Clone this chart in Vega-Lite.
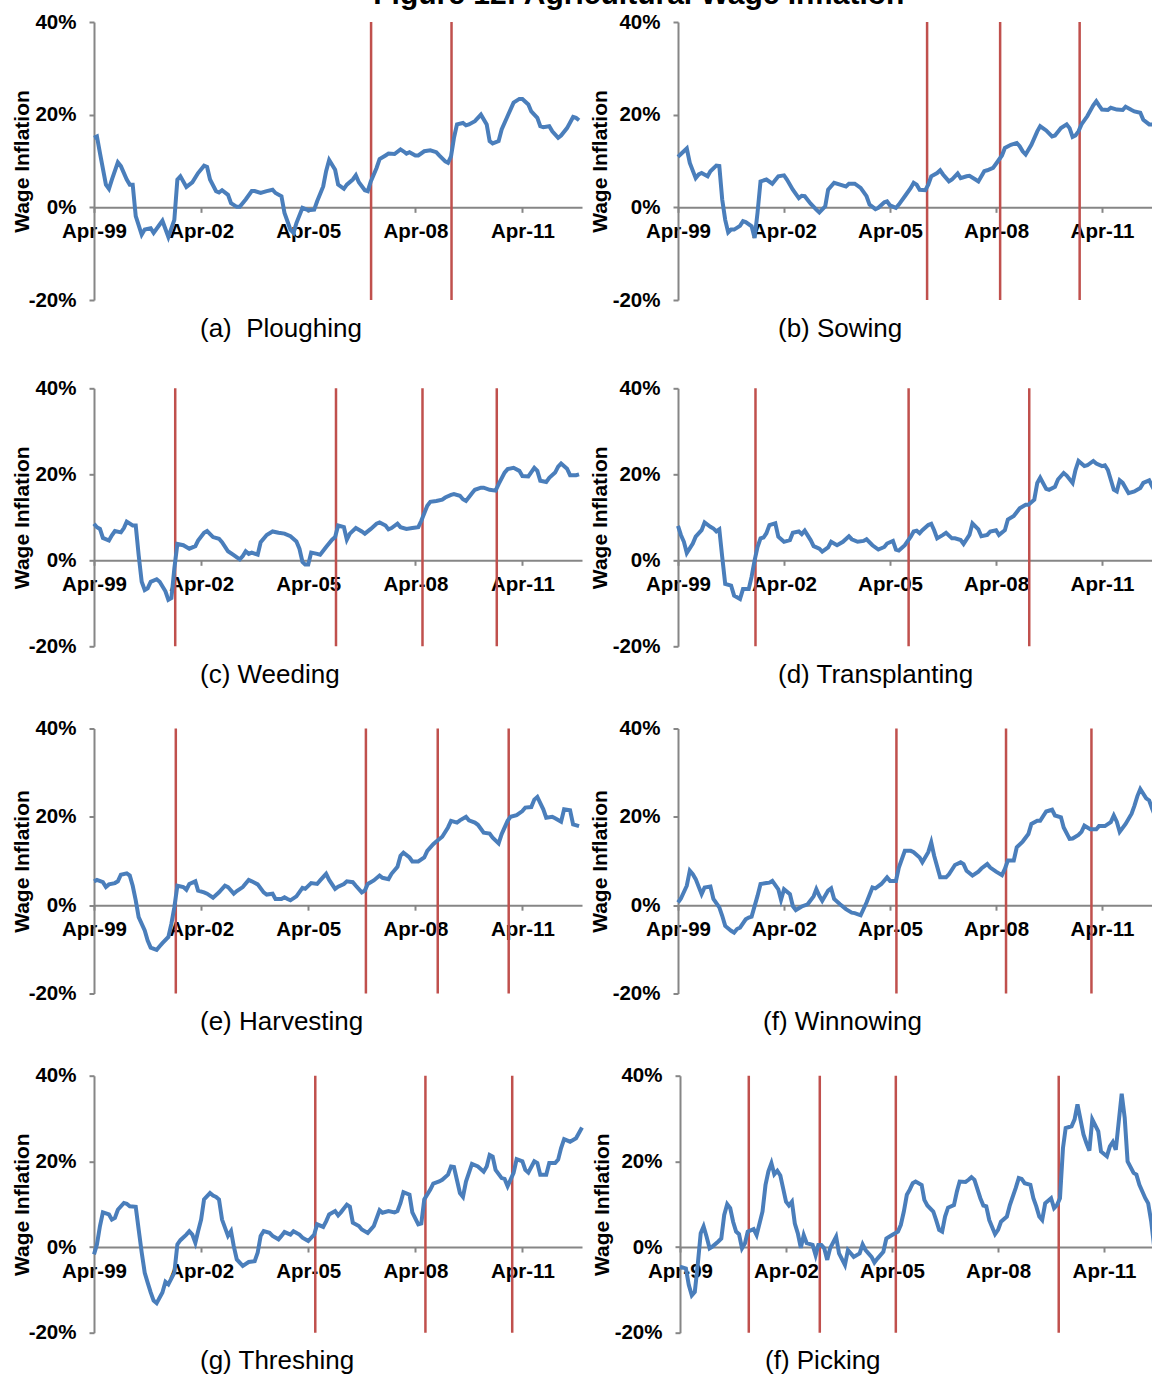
{
"$schema": "https://vega.github.io/schema/vega-lite/v6.json",
"background": "white",
"padding": {"left": 11, "top": -20, "right": -6, "bottom": 10},
"title": {"text": "Figure 12: Agricultural Wage Inflation", "font": "Liberation Sans", "fontSize": 30, "fontWeight": "bold", "color": "#000000", "anchor": "middle", "dx": 50, "offset": -22, "baseline": "alphabetic"},
"config": {
  "view": {"stroke": null},
  "font": "Liberation Sans",
  "title": {"font": "Liberation Sans", "fontSize": 26, "fontWeight": "normal", "color": "#000000"},
  "axis": {"grid": false, "domainColor": "#868686", "domainWidth": 2, "tickColor": "#868686", "tickWidth": 2, "tickSize": 5, "labelFont": "Liberation Sans", "labelFontSize": 20.5, "labelFontWeight": "bold", "labelColor": "#000000", "labelOverlap": false, "titleFont": "Liberation Sans", "titleFontSize": 21, "titleFontWeight": "bold", "titleColor": "#000000"},
  "axisX": {"labelFlush": false, "labelPadding": 9},
  "axisY": {"labelPadding": 13, "titleBaseline": "alphabetic"}
},
"datasets": {
"a": [{"d":"1999-04","v":15},{"d":"1999-05","v":15.3},{"d":"1999-06","v":11.7},{"d":"1999-08","v":4.9},{"d":"1999-09","v":4.0},{"d":"1999-10","v":6},{"d":"1999-12","v":9.7},{"d":"2000-01","v":8.9},{"d":"2000-03","v":6},{"d":"2000-04","v":4.9},{"d":"2000-05","v":4.9},{"d":"2000-06","v":-1.9},{"d":"2000-08","v":-5.9},{"d":"2000-09","v":-4.8},{"d":"2000-11","v":-4.5},{"d":"2000-12","v":-5.5},{"d":"2001-02","v":-3.7},{"d":"2001-03","v":-2.9},{"d":"2001-05","v":-6.4},{"d":"2001-07","v":-2.7},{"d":"2001-08","v":6},{"d":"2001-09","v":6.7},{"d":"2001-11","v":4.4},{"d":"2002-01","v":5.4},{"d":"2002-03","v":7.4},{"d":"2002-05","v":9},{"d":"2002-06","v":8.7},{"d":"2002-07","v":6},{"d":"2002-09","v":3.5},{"d":"2002-10","v":3.2},{"d":"2002-11","v":3.7},{"d":"2003-01","v":2.7},{"d":"2003-02","v":0.9},{"d":"2003-04","v":0.1},{"d":"2003-05","v":0.1},{"d":"2003-07","v":1.7},{"d":"2003-09","v":3.5},{"d":"2003-10","v":3.5},{"d":"2003-12","v":3.1},{"d":"2004-02","v":3.5},{"d":"2004-04","v":3.8},{"d":"2004-05","v":3.1},{"d":"2004-07","v":2.4},{"d":"2004-08","v":-1.2},{"d":"2004-10","v":-4.8},{"d":"2004-11","v":-5.5},{"d":"2004-12","v":-3.4},{"d":"2005-02","v":-0.1},{"d":"2005-04","v":-0.6},{"d":"2005-06","v":-0.5},{"d":"2005-07","v":1.3},{"d":"2005-09","v":4.5},{"d":"2005-10","v":7.8},{"d":"2005-11","v":10.2},{"d":"2006-01","v":8.1},{"d":"2006-02","v":4.9},{"d":"2006-04","v":4},{"d":"2006-05","v":4.9},{"d":"2006-07","v":6},{"d":"2006-08","v":6.9},{"d":"2006-09","v":5.4},{"d":"2006-11","v":3.7},{"d":"2006-12","v":3.5},{"d":"2007-01","v":5.6},{"d":"2007-03","v":8.5},{"d":"2007-04","v":10.4},{"d":"2007-06","v":11.2},{"d":"2007-07","v":11.6},{"d":"2007-09","v":11.5},{"d":"2007-11","v":12.5},{"d":"2007-12","v":12.1},{"d":"2008-01","v":11.6},{"d":"2008-02","v":11.9},{"d":"2008-04","v":11.2},{"d":"2008-05","v":11.2},{"d":"2008-07","v":12.1},{"d":"2008-09","v":12.3},{"d":"2008-11","v":11.9},{"d":"2008-12","v":11.2},{"d":"2009-02","v":9.9},{"d":"2009-03","v":9.6},{"d":"2009-04","v":11},{"d":"2009-05","v":15},{"d":"2009-06","v":17.9},{"d":"2009-08","v":18.2},{"d":"2009-09","v":17.7},{"d":"2009-10","v":17.9},{"d":"2009-12","v":18.6},{"d":"2010-02","v":20},{"d":"2010-04","v":17.9},{"d":"2010-05","v":14.3},{"d":"2010-06","v":13.8},{"d":"2010-08","v":14.3},{"d":"2010-09","v":16.8},{"d":"2010-11","v":19.7},{"d":"2011-01","v":22.6},{"d":"2011-03","v":23.4},{"d":"2011-04","v":23.4},{"d":"2011-06","v":22.2},{"d":"2011-07","v":20.7},{"d":"2011-09","v":19.3},{"d":"2011-10","v":17.5},{"d":"2011-11","v":17.3},{"d":"2012-01","v":17.5},{"d":"2012-02","v":16.4},{"d":"2012-04","v":15},{"d":"2012-05","v":15.5},{"d":"2012-07","v":17.1},{"d":"2012-09","v":19.5},{"d":"2012-10","v":19.3},{"d":"2012-11","v":18.8}],
"b": [{"d":"1999-04","v":10.9},{"d":"1999-05","v":11.5},{"d":"1999-07","v":12.7},{"d":"1999-08","v":9.6},{"d":"1999-10","v":6.3},{"d":"1999-11","v":7.1},{"d":"1999-12","v":7.4},{"d":"2000-02","v":6.7},{"d":"2000-03","v":7.8},{"d":"2000-05","v":9},{"d":"2000-06","v":8.9},{"d":"2000-07","v":1.7},{"d":"2000-08","v":-2.7},{"d":"2000-09","v":-5.4},{"d":"2000-10","v":-4.8},{"d":"2000-11","v":-4.8},{"d":"2001-01","v":-4},{"d":"2001-02","v":-3},{"d":"2001-03","v":-3.2},{"d":"2001-05","v":-4.1},{"d":"2001-06","v":-6.6},{"d":"2001-07","v":-1.2},{"d":"2001-08","v":5.6},{"d":"2001-10","v":6},{"d":"2001-12","v":5.1},{"d":"2002-02","v":6.7},{"d":"2002-04","v":6.9},{"d":"2002-05","v":6},{"d":"2002-07","v":3.8},{"d":"2002-09","v":2},{"d":"2002-10","v":2.5},{"d":"2002-11","v":2.4},{"d":"2003-01","v":0.8},{"d":"2003-03","v":-0.5},{"d":"2003-04","v":-1.1},{"d":"2003-06","v":0.2},{"d":"2003-07","v":3.8},{"d":"2003-09","v":5.3},{"d":"2003-11","v":4.9},{"d":"2004-01","v":4.5},{"d":"2004-02","v":5.1},{"d":"2004-04","v":5.1},{"d":"2004-06","v":4.2},{"d":"2004-08","v":2.4},{"d":"2004-09","v":0.6},{"d":"2004-11","v":-0.4},{"d":"2004-12","v":-0.1},{"d":"2005-02","v":1.1},{"d":"2005-03","v":1.3},{"d":"2005-04","v":0.4},{"d":"2005-06","v":-0.1},{"d":"2005-07","v":0.6},{"d":"2005-09","v":2.4},{"d":"2005-11","v":4.2},{"d":"2005-12","v":5.3},{"d":"2006-01","v":4.9},{"d":"2006-02","v":3.8},{"d":"2006-04","v":3.7},{"d":"2006-05","v":4.9},{"d":"2006-06","v":6.7},{"d":"2006-08","v":7.4},{"d":"2006-09","v":8},{"d":"2006-10","v":7.1},{"d":"2006-12","v":5.6},{"d":"2007-01","v":6},{"d":"2007-03","v":7.3},{"d":"2007-04","v":6.3},{"d":"2007-06","v":6.7},{"d":"2007-07","v":6.8},{"d":"2007-09","v":6},{"d":"2007-10","v":5.6},{"d":"2007-12","v":7.8},{"d":"2008-01","v":8},{"d":"2008-03","v":8.5},{"d":"2008-04","v":9.4},{"d":"2008-06","v":11.2},{"d":"2008-07","v":12.8},{"d":"2008-09","v":13.5},{"d":"2008-11","v":13.9},{"d":"2008-12","v":13.2},{"d":"2009-01","v":12.1},{"d":"2009-02","v":11.4},{"d":"2009-04","v":13.5},{"d":"2009-06","v":16.4},{"d":"2009-07","v":17.5},{"d":"2009-09","v":16.6},{"d":"2009-11","v":15.3},{"d":"2009-12","v":15.5},{"d":"2010-02","v":17.1},{"d":"2010-04","v":17.9},{"d":"2010-05","v":17.1},{"d":"2010-06","v":15.2},{"d":"2010-07","v":15.5},{"d":"2010-08","v":16.4},{"d":"2010-09","v":17.9},{"d":"2010-11","v":19.7},{"d":"2011-01","v":22},{"d":"2011-02","v":22.9},{"d":"2011-03","v":22},{"d":"2011-04","v":21.1},{"d":"2011-06","v":21},{"d":"2011-07","v":21.5},{"d":"2011-09","v":21.1},{"d":"2011-11","v":21},{"d":"2011-12","v":21.7},{"d":"2012-02","v":21},{"d":"2012-03","v":20.7},{"d":"2012-05","v":20.4},{"d":"2012-06","v":18.9},{"d":"2012-08","v":17.9},{"d":"2012-10","v":17.9},{"d":"2012-11","v":17.5}],
"c": [{"d":"1999-04","v":8.5},{"d":"1999-05","v":7.7},{"d":"1999-06","v":7.3},{"d":"1999-07","v":5.2},{"d":"1999-09","v":4.6},{"d":"1999-10","v":5.8},{"d":"1999-11","v":6.8},{"d":"2000-01","v":6.5},{"d":"2000-02","v":7.5},{"d":"2000-03","v":9},{"d":"2000-05","v":8.1},{"d":"2000-06","v":8.1},{"d":"2000-07","v":1.2},{"d":"2000-08","v":-5},{"d":"2000-09","v":-6.9},{"d":"2000-10","v":-6.5},{"d":"2000-11","v":-5},{"d":"2001-01","v":-4.4},{"d":"2001-02","v":-5},{"d":"2001-04","v":-7.2},{"d":"2001-05","v":-9.2},{"d":"2001-06","v":-8.8},{"d":"2001-07","v":-1.9},{"d":"2001-08","v":3.8},{"d":"2001-10","v":3.5},{"d":"2001-12","v":2.7},{"d":"2002-02","v":3.3},{"d":"2002-03","v":4.6},{"d":"2002-05","v":6.4},{"d":"2002-06","v":6.8},{"d":"2002-08","v":5.4},{"d":"2002-10","v":5},{"d":"2002-11","v":4.2},{"d":"2003-01","v":2.1},{"d":"2003-03","v":1.2},{"d":"2003-05","v":0.2},{"d":"2003-06","v":1},{"d":"2003-07","v":2.1},{"d":"2003-08","v":1.5},{"d":"2003-09","v":1.8},{"d":"2003-11","v":1.3},{"d":"2003-12","v":4.2},{"d":"2004-02","v":5.9},{"d":"2004-04","v":6.7},{"d":"2004-06","v":6.4},{"d":"2004-08","v":6.2},{"d":"2004-10","v":5.6},{"d":"2004-12","v":4.4},{"d":"2005-01","v":2.7},{"d":"2005-02","v":-0.4},{"d":"2005-03","v":-1},{"d":"2005-04","v":-1},{"d":"2005-05","v":1.8},{"d":"2005-07","v":1.5},{"d":"2005-08","v":1.3},{"d":"2005-10","v":3.1},{"d":"2005-12","v":4.8},{"d":"2006-01","v":5.4},{"d":"2006-02","v":8.1},{"d":"2006-04","v":7.7},{"d":"2006-05","v":4.8},{"d":"2006-06","v":6.2},{"d":"2006-08","v":7.5},{"d":"2006-10","v":6.7},{"d":"2006-11","v":6.2},{"d":"2007-01","v":7.3},{"d":"2007-03","v":8.5},{"d":"2007-04","v":8.8},{"d":"2007-06","v":8.1},{"d":"2007-07","v":7.2},{"d":"2007-08","v":7.5},{"d":"2007-10","v":8.5},{"d":"2007-11","v":7.7},{"d":"2008-01","v":7.3},{"d":"2008-03","v":7.5},{"d":"2008-05","v":7.7},{"d":"2008-06","v":9.2},{"d":"2008-08","v":12.7},{"d":"2008-09","v":13.6},{"d":"2008-11","v":13.8},{"d":"2009-01","v":14.1},{"d":"2009-02","v":14.6},{"d":"2009-04","v":15.2},{"d":"2009-05","v":15.4},{"d":"2009-07","v":15},{"d":"2009-08","v":14.2},{"d":"2009-09","v":13.8},{"d":"2009-11","v":15.6},{"d":"2009-12","v":16.4},{"d":"2010-02","v":16.9},{"d":"2010-03","v":16.9},{"d":"2010-05","v":16.4},{"d":"2010-07","v":16.2},{"d":"2010-08","v":17.7},{"d":"2010-10","v":20.4},{"d":"2010-11","v":21.2},{"d":"2011-01","v":21.5},{"d":"2011-03","v":20.8},{"d":"2011-04","v":19.6},{"d":"2011-06","v":19.5},{"d":"2011-08","v":21.5},{"d":"2011-09","v":20.8},{"d":"2011-10","v":18.5},{"d":"2011-12","v":18.2},{"d":"2012-01","v":19.2},{"d":"2012-03","v":20.4},{"d":"2012-04","v":21.8},{"d":"2012-05","v":22.5},{"d":"2012-07","v":21.3},{"d":"2012-08","v":19.8},{"d":"2012-10","v":19.8},{"d":"2012-11","v":20}],
"d": [{"d":"1999-04","v":8},{"d":"1999-05","v":5.9},{"d":"1999-06","v":4.3},{"d":"1999-07","v":1.7},{"d":"1999-09","v":3.9},{"d":"1999-10","v":5.5},{"d":"1999-12","v":7},{"d":"2000-01","v":8.8},{"d":"2000-03","v":7.8},{"d":"2000-04","v":7.4},{"d":"2000-05","v":6.7},{"d":"2000-06","v":7.2},{"d":"2000-07","v":0.8},{"d":"2000-08","v":-5.5},{"d":"2000-10","v":-5.9},{"d":"2000-11","v":-8.2},{"d":"2000-12","v":-8.6},{"d":"2001-01","v":-9},{"d":"2001-02","v":-6.7},{"d":"2001-04","v":-6.7},{"d":"2001-05","v":-3.8},{"d":"2001-06","v":0},{"d":"2001-07","v":3.1},{"d":"2001-08","v":5.1},{"d":"2001-09","v":5.3},{"d":"2001-10","v":6.3},{"d":"2001-11","v":8.2},{"d":"2002-01","v":8.6},{"d":"2002-02","v":5.5},{"d":"2002-04","v":4.3},{"d":"2002-06","v":4.7},{"d":"2002-07","v":6.4},{"d":"2002-09","v":6.7},{"d":"2002-10","v":6.1},{"d":"2002-11","v":6.9},{"d":"2003-01","v":4.7},{"d":"2003-02","v":3.3},{"d":"2003-04","v":2.7},{"d":"2003-05","v":2},{"d":"2003-07","v":3},{"d":"2003-08","v":4.3},{"d":"2003-10","v":3.5},{"d":"2003-12","v":4.3},{"d":"2004-02","v":5.6},{"d":"2004-03","v":4.9},{"d":"2004-05","v":4.3},{"d":"2004-07","v":4.5},{"d":"2004-08","v":4.9},{"d":"2004-10","v":3.5},{"d":"2004-12","v":2.5},{"d":"2005-02","v":3.1},{"d":"2005-03","v":3.9},{"d":"2005-05","v":4.5},{"d":"2005-06","v":2.5},{"d":"2005-07","v":2.3},{"d":"2005-09","v":3.5},{"d":"2005-11","v":5.5},{"d":"2005-12","v":6.7},{"d":"2006-01","v":6.9},{"d":"2006-02","v":6.3},{"d":"2006-03","v":7},{"d":"2006-05","v":8.2},{"d":"2006-06","v":8.5},{"d":"2006-07","v":7},{"d":"2006-08","v":5.1},{"d":"2006-10","v":5.9},{"d":"2006-11","v":6.4},{"d":"2007-01","v":5.1},{"d":"2007-02","v":5.1},{"d":"2007-04","v":4.7},{"d":"2007-05","v":3.8},{"d":"2007-07","v":5.9},{"d":"2007-08","v":8.6},{"d":"2007-10","v":7.2},{"d":"2007-11","v":5.6},{"d":"2008-01","v":5.9},{"d":"2008-02","v":6.7},{"d":"2008-04","v":7},{"d":"2008-05","v":5.9},{"d":"2008-07","v":7},{"d":"2008-08","v":9.5},{"d":"2008-10","v":10.3},{"d":"2008-12","v":12.1},{"d":"2009-02","v":12.9},{"d":"2009-03","v":12.9},{"d":"2009-05","v":14.1},{"d":"2009-06","v":18},{"d":"2009-07","v":19.2},{"d":"2009-09","v":16.6},{"d":"2009-10","v":16.4},{"d":"2009-12","v":17.1},{"d":"2010-01","v":18.8},{"d":"2010-03","v":20.3},{"d":"2010-04","v":19.7},{"d":"2010-06","v":18},{"d":"2010-07","v":21},{"d":"2010-08","v":23.1},{"d":"2010-10","v":21.9},{"d":"2010-11","v":22.1},{"d":"2011-01","v":23.1},{"d":"2011-02","v":22.5},{"d":"2011-04","v":21.9},{"d":"2011-05","v":22.1},{"d":"2011-06","v":21},{"d":"2011-08","v":16.4},{"d":"2011-09","v":16},{"d":"2011-10","v":18.6},{"d":"2011-11","v":18},{"d":"2012-01","v":15.6},{"d":"2012-03","v":16},{"d":"2012-05","v":16.8},{"d":"2012-06","v":18},{"d":"2012-08","v":18.6},{"d":"2012-09","v":17.2},{"d":"2012-10","v":16},{"d":"2012-11","v":15.5}],
"e": [{"d":"1999-04","v":5.4},{"d":"1999-05","v":5.7},{"d":"1999-07","v":5.2},{"d":"1999-08","v":4.1},{"d":"1999-09","v":4.7},{"d":"1999-11","v":5},{"d":"1999-12","v":5.4},{"d":"2000-01","v":6.9},{"d":"2000-03","v":7.2},{"d":"2000-04","v":6.7},{"d":"2000-05","v":4.4},{"d":"2000-06","v":1.1},{"d":"2000-07","v":-2.7},{"d":"2000-09","v":-5.7},{"d":"2000-10","v":-8},{"d":"2000-11","v":-9.6},{"d":"2001-01","v":-10.1},{"d":"2001-02","v":-9.3},{"d":"2001-03","v":-8.6},{"d":"2001-05","v":-7.2},{"d":"2001-06","v":-4.2},{"d":"2001-07","v":-0.5},{"d":"2001-08","v":4.4},{"d":"2001-10","v":4.1},{"d":"2001-11","v":3.5},{"d":"2001-12","v":4.8},{"d":"2002-02","v":5.4},{"d":"2002-03","v":3.3},{"d":"2002-05","v":2.9},{"d":"2002-06","v":2.6},{"d":"2002-08","v":1.7},{"d":"2002-10","v":2.9},{"d":"2002-12","v":4.4},{"d":"2003-01","v":4.1},{"d":"2003-03","v":2.6},{"d":"2003-04","v":3.2},{"d":"2003-06","v":4.1},{"d":"2003-08","v":5.7},{"d":"2003-09","v":5.4},{"d":"2003-11","v":4.7},{"d":"2004-01","v":2.9},{"d":"2004-02","v":2.4},{"d":"2004-04","v":2.6},{"d":"2004-05","v":1.4},{"d":"2004-07","v":1.4},{"d":"2004-08","v":1.8},{"d":"2004-09","v":1.4},{"d":"2004-10","v":1.1},{"d":"2004-12","v":2},{"d":"2005-02","v":3.9},{"d":"2005-03","v":3.7},{"d":"2005-05","v":5},{"d":"2005-07","v":4.8},{"d":"2005-08","v":5.6},{"d":"2005-10","v":7.1},{"d":"2005-11","v":5.7},{"d":"2006-01","v":3.7},{"d":"2006-02","v":4.2},{"d":"2006-04","v":4.8},{"d":"2006-05","v":5.4},{"d":"2006-07","v":5.2},{"d":"2006-08","v":4.4},{"d":"2006-10","v":2.9},{"d":"2006-11","v":3.3},{"d":"2006-12","v":4.8},{"d":"2007-02","v":5.6},{"d":"2007-04","v":6.7},{"d":"2007-05","v":6.2},{"d":"2007-07","v":5.9},{"d":"2007-08","v":7.1},{"d":"2007-10","v":8.7},{"d":"2007-11","v":11.2},{"d":"2007-12","v":11.9},{"d":"2008-02","v":10.8},{"d":"2008-03","v":9.9},{"d":"2008-05","v":9.9},{"d":"2008-07","v":10.8},{"d":"2008-08","v":12.3},{"d":"2008-10","v":13.8},{"d":"2008-11","v":14.4},{"d":"2009-01","v":15.5},{"d":"2009-03","v":17.6},{"d":"2009-04","v":19.1},{"d":"2009-06","v":18.7},{"d":"2009-07","v":19.2},{"d":"2009-09","v":20},{"d":"2009-10","v":19.2},{"d":"2009-12","v":18.7},{"d":"2010-01","v":18.2},{"d":"2010-03","v":16.4},{"d":"2010-05","v":16.2},{"d":"2010-06","v":15.3},{"d":"2010-08","v":14},{"d":"2010-09","v":16.1},{"d":"2010-11","v":19.1},{"d":"2010-12","v":20},{"d":"2011-02","v":20.4},{"d":"2011-04","v":21.3},{"d":"2011-05","v":22.1},{"d":"2011-07","v":22.2},{"d":"2011-08","v":23.9},{"d":"2011-09","v":24.5},{"d":"2011-11","v":21.7},{"d":"2011-12","v":19.8},{"d":"2012-02","v":20},{"d":"2012-03","v":19.7},{"d":"2012-05","v":18.9},{"d":"2012-06","v":21.7},{"d":"2012-08","v":21.5},{"d":"2012-09","v":18.3},{"d":"2012-11","v":17.9}],
"f": [{"d":"1999-04","v":0.6},{"d":"1999-05","v":1.5},{"d":"1999-07","v":4.4},{"d":"1999-08","v":7.8},{"d":"1999-09","v":7},{"d":"1999-10","v":5.9},{"d":"1999-12","v":2.5},{"d":"2000-01","v":4},{"d":"2000-03","v":4.2},{"d":"2000-04","v":1.4},{"d":"2000-06","v":-0.5},{"d":"2000-07","v":-2.4},{"d":"2000-08","v":-4.7},{"d":"2000-10","v":-5.8},{"d":"2000-11","v":-6.2},{"d":"2000-12","v":-5.4},{"d":"2001-01","v":-5.1},{"d":"2001-03","v":-3.2},{"d":"2001-04","v":-2.8},{"d":"2001-05","v":-2.6},{"d":"2001-07","v":2.1},{"d":"2001-08","v":4.8},{"d":"2001-10","v":5},{"d":"2001-11","v":5.1},{"d":"2001-12","v":5.5},{"d":"2002-02","v":3.6},{"d":"2002-03","v":1.2},{"d":"2002-04","v":3.6},{"d":"2002-06","v":2.5},{"d":"2002-07","v":-0.2},{"d":"2002-08","v":-1.1},{"d":"2002-10","v":-0.3},{"d":"2002-12","v":0.2},{"d":"2003-02","v":2},{"d":"2003-03","v":3.6},{"d":"2003-04","v":2.1},{"d":"2003-05","v":1},{"d":"2003-07","v":3.3},{"d":"2003-08","v":3.8},{"d":"2003-09","v":1.4},{"d":"2003-11","v":0.2},{"d":"2004-01","v":-0.9},{"d":"2004-03","v":-1.7},{"d":"2004-04","v":-1.8},{"d":"2004-06","v":-2.3},{"d":"2004-08","v":0.6},{"d":"2004-10","v":4},{"d":"2004-11","v":3.8},{"d":"2005-01","v":4.8},{"d":"2005-03","v":6.3},{"d":"2005-04","v":5.5},{"d":"2005-06","v":5.5},{"d":"2005-07","v":8.5},{"d":"2005-09","v":12.3},{"d":"2005-11","v":12.3},{"d":"2005-12","v":12},{"d":"2006-02","v":10.8},{"d":"2006-03","v":9.7},{"d":"2006-05","v":12},{"d":"2006-06","v":14.2},{"d":"2006-07","v":11.2},{"d":"2006-09","v":6.3},{"d":"2006-11","v":6.3},{"d":"2006-12","v":7},{"d":"2007-02","v":9.1},{"d":"2007-04","v":9.7},{"d":"2007-05","v":9.3},{"d":"2007-06","v":7.8},{"d":"2007-08","v":6.7},{"d":"2007-10","v":7.6},{"d":"2007-11","v":8.3},{"d":"2008-01","v":9.3},{"d":"2008-02","v":8.5},{"d":"2008-04","v":7.6},{"d":"2008-06","v":6.8},{"d":"2008-07","v":8.2},{"d":"2008-08","v":10.1},{"d":"2008-10","v":10.1},{"d":"2008-11","v":13.1},{"d":"2009-01","v":14.4},{"d":"2009-03","v":16.1},{"d":"2009-04","v":18.4},{"d":"2009-06","v":19.1},{"d":"2009-07","v":19.1},{"d":"2009-09","v":21.2},{"d":"2009-11","v":21.6},{"d":"2009-12","v":20.3},{"d":"2010-02","v":19.9},{"d":"2010-03","v":17.6},{"d":"2010-05","v":15},{"d":"2010-06","v":15.1},{"d":"2010-08","v":15.9},{"d":"2010-09","v":16.6},{"d":"2010-10","v":18},{"d":"2010-12","v":17.2},{"d":"2011-02","v":17.2},{"d":"2011-03","v":17.9},{"d":"2011-05","v":17.9},{"d":"2011-07","v":18.8},{"d":"2011-08","v":20.3},{"d":"2011-09","v":18.9},{"d":"2011-10","v":16.6},{"d":"2011-12","v":18.4},{"d":"2012-02","v":20.7},{"d":"2012-03","v":22.5},{"d":"2012-04","v":24.7},{"d":"2012-05","v":26.3},{"d":"2012-07","v":24.2},{"d":"2012-08","v":23.7},{"d":"2012-09","v":21.8},{"d":"2012-11","v":18.4}],
"g": [{"d":"1999-04","v":-1.7},{"d":"1999-05","v":0.6},{"d":"1999-06","v":4.9},{"d":"1999-07","v":8.1},{"d":"1999-09","v":7.6},{"d":"1999-10","v":6.4},{"d":"1999-11","v":6.8},{"d":"1999-12","v":8.7},{"d":"2000-02","v":10.3},{"d":"2000-03","v":10.1},{"d":"2000-04","v":9.5},{"d":"2000-06","v":9.4},{"d":"2000-07","v":4.1},{"d":"2000-08","v":-1.3},{"d":"2000-09","v":-6},{"d":"2000-10","v":-8.3},{"d":"2000-11","v":-10.6},{"d":"2000-12","v":-12.5},{"d":"2001-01","v":-13.1},{"d":"2001-03","v":-10.6},{"d":"2001-04","v":-8.1},{"d":"2001-05","v":-8.7},{"d":"2001-07","v":-6},{"d":"2001-08","v":0.6},{"d":"2001-09","v":1.6},{"d":"2001-11","v":2.9},{"d":"2001-12","v":3.7},{"d":"2002-01","v":2.9},{"d":"2002-02","v":1},{"d":"2002-03","v":3.7},{"d":"2002-04","v":6.4},{"d":"2002-05","v":11.1},{"d":"2002-07","v":12.6},{"d":"2002-08","v":12},{"d":"2002-09","v":11.7},{"d":"2002-10","v":11.1},{"d":"2002-11","v":6.4},{"d":"2003-01","v":2.6},{"d":"2003-02","v":3.7},{"d":"2003-03","v":0.2},{"d":"2003-04","v":-2.9},{"d":"2003-06","v":-4.4},{"d":"2003-08","v":-3.5},{"d":"2003-10","v":-3.3},{"d":"2003-11","v":-1.3},{"d":"2003-12","v":2.6},{"d":"2004-01","v":3.7},{"d":"2004-03","v":3.3},{"d":"2004-04","v":2.6},{"d":"2004-06","v":1.8},{"d":"2004-07","v":2.6},{"d":"2004-08","v":3.5},{"d":"2004-10","v":2.9},{"d":"2004-11","v":3.7},{"d":"2005-01","v":2.9},{"d":"2005-02","v":2.2},{"d":"2005-04","v":1.4},{"d":"2005-06","v":2.9},{"d":"2005-07","v":5.3},{"d":"2005-09","v":4.7},{"d":"2005-10","v":6},{"d":"2005-11","v":7.6},{"d":"2006-01","v":8.4},{"d":"2006-02","v":7.4},{"d":"2006-03","v":8.1},{"d":"2006-05","v":9.9},{"d":"2006-06","v":9.4},{"d":"2006-07","v":5.7},{"d":"2006-09","v":4.9},{"d":"2006-10","v":4.1},{"d":"2006-12","v":3.3},{"d":"2007-02","v":4.9},{"d":"2007-04","v":8.6},{"d":"2007-05","v":8},{"d":"2007-07","v":8.4},{"d":"2007-09","v":8.1},{"d":"2007-10","v":8.4},{"d":"2007-11","v":10.3},{"d":"2007-12","v":12.8},{"d":"2008-02","v":12.2},{"d":"2008-03","v":8.1},{"d":"2008-05","v":5.3},{"d":"2008-06","v":5.5},{"d":"2008-07","v":11.1},{"d":"2008-09","v":13.4},{"d":"2008-10","v":14.8},{"d":"2008-12","v":15.3},{"d":"2009-01","v":15.7},{"d":"2009-03","v":16.9},{"d":"2009-04","v":18.8},{"d":"2009-05","v":18.7},{"d":"2009-07","v":12.6},{"d":"2009-08","v":11.7},{"d":"2009-09","v":15.3},{"d":"2009-11","v":19.4},{"d":"2010-01","v":18.8},{"d":"2010-03","v":17.6},{"d":"2010-04","v":18.8},{"d":"2010-05","v":21.5},{"d":"2010-06","v":21.1},{"d":"2010-07","v":18},{"d":"2010-09","v":16.1},{"d":"2010-10","v":15.9},{"d":"2010-11","v":14.2},{"d":"2011-01","v":17.3},{"d":"2011-02","v":20.5},{"d":"2011-04","v":20},{"d":"2011-05","v":18},{"d":"2011-06","v":17.4},{"d":"2011-08","v":20},{"d":"2011-09","v":19.6},{"d":"2011-10","v":16.9},{"d":"2011-12","v":16.9},{"d":"2012-01","v":19.6},{"d":"2012-03","v":19.6},{"d":"2012-04","v":20.4},{"d":"2012-05","v":23.1},{"d":"2012-06","v":25.2},{"d":"2012-08","v":24.6},{"d":"2012-10","v":25.4},{"d":"2012-12","v":27.9}],
"h": [{"d":"1999-04","v":-4.6},{"d":"1999-06","v":-5},{"d":"1999-07","v":-8.9},{"d":"1999-08","v":-11.3},{"d":"1999-09","v":-10.5},{"d":"1999-10","v":-4.2},{"d":"1999-11","v":3.2},{"d":"1999-12","v":4.8},{"d":"2000-01","v":2.4},{"d":"2000-02","v":-0.3},{"d":"2000-03","v":0.1},{"d":"2000-05","v":1.3},{"d":"2000-06","v":2},{"d":"2000-07","v":7.5},{"d":"2000-08","v":10},{"d":"2000-09","v":9.1},{"d":"2000-10","v":5.9},{"d":"2000-11","v":3.6},{"d":"2000-12","v":3},{"d":"2001-01","v":-0.3},{"d":"2001-02","v":0.9},{"d":"2001-03","v":3.6},{"d":"2001-05","v":4.2},{"d":"2001-06","v":2.8},{"d":"2001-07","v":5.5},{"d":"2001-08","v":8.3},{"d":"2001-09","v":14.5},{"d":"2001-10","v":17.7},{"d":"2001-11","v":19.6},{"d":"2001-12","v":17},{"d":"2002-01","v":17.8},{"d":"2002-02","v":16.7},{"d":"2002-03","v":13.8},{"d":"2002-04","v":10.6},{"d":"2002-05","v":9.7},{"d":"2002-06","v":10.6},{"d":"2002-07","v":5.5},{"d":"2002-08","v":3.2},{"d":"2002-09","v":-0.2},{"d":"2002-10","v":2.8},{"d":"2002-11","v":0.9},{"d":"2003-01","v":0.5},{"d":"2003-02","v":-1.9},{"d":"2003-03","v":0.5},{"d":"2003-04","v":0.5},{"d":"2003-05","v":-0.3},{"d":"2003-06","v":-3},{"d":"2003-07","v":-0.3},{"d":"2003-09","v":2.4},{"d":"2003-10","v":-1.5},{"d":"2003-12","v":-4.2},{"d":"2004-01","v":-0.7},{"d":"2004-02","v":-1.5},{"d":"2004-03","v":-2.3},{"d":"2004-05","v":-1.5},{"d":"2004-06","v":0.6},{"d":"2004-07","v":-0.7},{"d":"2004-09","v":-2.3},{"d":"2004-10","v":-3.6},{"d":"2004-11","v":-2.7},{"d":"2005-01","v":-1.1},{"d":"2005-02","v":2},{"d":"2005-04","v":2.8},{"d":"2005-06","v":3.6},{"d":"2005-07","v":5.2},{"d":"2005-08","v":8.3},{"d":"2005-09","v":12.2},{"d":"2005-10","v":13.4},{"d":"2005-11","v":14.9},{"d":"2005-12","v":15.3},{"d":"2006-02","v":14.5},{"d":"2006-03","v":11},{"d":"2006-04","v":9.7},{"d":"2006-06","v":8.3},{"d":"2006-07","v":6.3},{"d":"2006-08","v":4},{"d":"2006-09","v":3.6},{"d":"2006-10","v":7.1},{"d":"2006-11","v":9.2},{"d":"2007-01","v":9.8},{"d":"2007-02","v":13},{"d":"2007-03","v":15.3},{"d":"2007-05","v":15.2},{"d":"2007-06","v":15.7},{"d":"2007-07","v":16.3},{"d":"2007-08","v":15.7},{"d":"2007-10","v":11.4},{"d":"2007-11","v":9.7},{"d":"2007-12","v":9.5},{"d":"2008-01","v":6.3},{"d":"2008-03","v":3},{"d":"2008-04","v":4},{"d":"2008-05","v":5.9},{"d":"2008-07","v":7.1},{"d":"2008-08","v":9.8},{"d":"2008-10","v":13.8},{"d":"2008-11","v":16.1},{"d":"2008-12","v":15.9},{"d":"2009-01","v":14.9},{"d":"2009-03","v":14.5},{"d":"2009-04","v":11.4},{"d":"2009-05","v":9.5},{"d":"2009-06","v":7.1},{"d":"2009-07","v":6.3},{"d":"2009-08","v":10.2},{"d":"2009-10","v":11.4},{"d":"2009-11","v":9.1},{"d":"2009-12","v":9.8},{"d":"2010-01","v":11.4},{"d":"2010-02","v":23.1},{"d":"2010-03","v":27.8},{"d":"2010-05","v":28.2},{"d":"2010-06","v":29.8},{"d":"2010-07","v":33.3},{"d":"2010-09","v":26.3},{"d":"2010-10","v":24.3},{"d":"2010-11","v":22.5},{"d":"2010-12","v":29.8},{"d":"2011-02","v":27},{"d":"2011-03","v":22.3},{"d":"2011-05","v":21.2},{"d":"2011-06","v":23.5},{"d":"2011-07","v":24.5},{"d":"2011-08","v":22.7},{"d":"2011-09","v":29.4},{"d":"2011-10","v":35.8},{"d":"2011-11","v":30.2},{"d":"2011-12","v":20},{"d":"2012-02","v":17.3},{"d":"2012-03","v":16.9},{"d":"2012-04","v":14.5},{"d":"2012-06","v":11.4},{"d":"2012-07","v":10.2},{"d":"2012-08","v":6},{"d":"2012-09","v":0}],
"ar": [{"d":"2007-01-04"},{"d":"2009-04-06"}],
"br": [{"d":"2006-04-19"},{"d":"2008-05-13"},{"d":"2010-08-13"}],
"cr": [{"d":"2001-07-10"},{"d":"2006-01-10"},{"d":"2008-06-13"},{"d":"2010-07-13"}],
"dr": [{"d":"2001-06-10"},{"d":"2005-10-10"},{"d":"2009-03-10"}],
"er": [{"d":"2001-07-16"},{"d":"2006-11-12"},{"d":"2008-11-16"},{"d":"2010-11-12"}],
"fr": [{"d":"2005-06-06"},{"d":"2008-07-13"},{"d":"2010-12-13"}],
"gr": [{"d":"2005-06-12"},{"d":"2008-07-13"},{"d":"2010-12-18"}],
"hr": [{"d":"2001-03-12"},{"d":"2003-03-16"},{"d":"2005-05-10"},{"d":"2009-12-19"}]
},
"spacing": 36.3,
"vconcat": [
{"hconcat": [
 {"width": 488, "height": 278,
  "title": {"text": "(a)\u00a0 Ploughing", "orient": "bottom", "anchor": "start", "frame": "group", "dx": 106, "offset": 5},
  "encoding": {"x": {"field": "d", "type": "temporal", "scale": {"type": "utc", "domain": [{"year":1999,"month":4,"date":1,"utc":true},{"year":2012,"month":12,"date":1,"utc":true}]}, "axis": {"offset": -92.67, "values": [{"year":1999,"month":4,"date":1,"utc":true},{"year":2002,"month":4,"date":1,"utc":true},{"year":2005,"month":4,"date":1,"utc":true},{"year":2008,"month":4,"date":1,"utc":true},{"year":2011,"month":4,"date":1,"utc":true}], "labelExpr": "utcFormat(datum.value, '%b-%y')", "title": null}}},
  "layer": [
   {"data": {"name": "ar"}, "mark": {"type": "rule", "color": "#C0504D", "strokeWidth": 2.5}},
   {"data": {"name": "a"}, "mark": {"type": "line", "color": "#4A7EBB", "strokeWidth": 4}, "encoding": {"y": {"field": "v", "type": "quantitative", "scale": {"domain": [-20, 40], "nice": false, "zero": false}, "axis": {"values": [-20, 0, 20, 40], "labelExpr": "datum.value + '%'", "title": "Wage Inflation", "titleX": -65.5}}}}
  ]},
 {"width": 483, "height": 278,
  "title": {"text": "(b) Sowing", "orient": "bottom", "anchor": "start", "frame": "group", "dx": 100, "offset": 5},
  "encoding": {"x": {"field": "d", "type": "temporal", "scale": {"type": "utc", "domain": [{"year":1999,"month":4,"date":1,"utc":true},{"year":2012,"month":12,"date":1,"utc":true}]}, "axis": {"offset": -92.67, "values": [{"year":1999,"month":4,"date":1,"utc":true},{"year":2002,"month":4,"date":1,"utc":true},{"year":2005,"month":4,"date":1,"utc":true},{"year":2008,"month":4,"date":1,"utc":true},{"year":2011,"month":4,"date":1,"utc":true}], "labelExpr": "utcFormat(datum.value, '%b-%y')", "title": null}}},
  "layer": [
   {"data": {"name": "br"}, "mark": {"type": "rule", "color": "#C0504D", "strokeWidth": 2.5}},
   {"data": {"name": "b"}, "mark": {"type": "line", "color": "#4A7EBB", "strokeWidth": 4}, "encoding": {"y": {"field": "v", "type": "quantitative", "scale": {"domain": [-20, 40], "nice": false, "zero": false}, "axis": {"values": [-20, 0, 20, 40], "labelExpr": "datum.value + '%'", "title": "Wage Inflation", "titleX": -72}}}}
  ]}
 ], "spacing": 0},
{"vconcat": [
 {"hconcat": [
  {"width": 488, "height": 258,
   "title": {"text": "(c) Weeding", "orient": "bottom", "anchor": "start", "frame": "group", "dx": 106, "offset": 5},
   "encoding": {"x": {"field": "d", "type": "temporal", "scale": {"type": "utc", "domain": [{"year":1999,"month":4,"date":1,"utc":true},{"year":2012,"month":12,"date":1,"utc":true}]}, "axis": {"offset": -86, "values": [{"year":1999,"month":4,"date":1,"utc":true},{"year":2002,"month":4,"date":1,"utc":true},{"year":2005,"month":4,"date":1,"utc":true},{"year":2008,"month":4,"date":1,"utc":true},{"year":2011,"month":4,"date":1,"utc":true}], "labelExpr": "utcFormat(datum.value, '%b-%y')", "title": null}}},
   "layer": [
    {"data": {"name": "cr"}, "mark": {"type": "rule", "color": "#C0504D", "strokeWidth": 2.5}},
    {"data": {"name": "c"}, "mark": {"type": "line", "color": "#4A7EBB", "strokeWidth": 4}, "encoding": {"y": {"field": "v", "type": "quantitative", "scale": {"domain": [-20, 40], "nice": false, "zero": false}, "axis": {"values": [-20, 0, 20, 40], "labelExpr": "datum.value + '%'", "title": "Wage Inflation", "titleX": -65.5}}}}
   ]},
  {"width": 483, "height": 258,
   "title": {"text": "(d) Transplanting", "orient": "bottom", "anchor": "start", "frame": "group", "dx": 100, "offset": 5},
   "encoding": {"x": {"field": "d", "type": "temporal", "scale": {"type": "utc", "domain": [{"year":1999,"month":4,"date":1,"utc":true},{"year":2012,"month":12,"date":1,"utc":true}]}, "axis": {"offset": -86, "values": [{"year":1999,"month":4,"date":1,"utc":true},{"year":2002,"month":4,"date":1,"utc":true},{"year":2005,"month":4,"date":1,"utc":true},{"year":2008,"month":4,"date":1,"utc":true},{"year":2011,"month":4,"date":1,"utc":true}], "labelExpr": "utcFormat(datum.value, '%b-%y')", "title": null}}},
   "layer": [
    {"data": {"name": "dr"}, "mark": {"type": "rule", "color": "#C0504D", "strokeWidth": 2.5}},
    {"data": {"name": "d"}, "mark": {"type": "line", "color": "#4A7EBB", "strokeWidth": 4}, "encoding": {"y": {"field": "v", "type": "quantitative", "scale": {"domain": [-20, 40], "nice": false, "zero": false}, "axis": {"values": [-20, 0, 20, 40], "labelExpr": "datum.value + '%'", "title": "Wage Inflation", "titleX": -72}}}}
   ]}
  ], "spacing": 0},
 {"hconcat": [
  {"width": 488, "height": 265,
   "title": {"text": "(e) Harvesting", "orient": "bottom", "anchor": "start", "frame": "group", "dx": 106, "offset": 5},
   "encoding": {"x": {"field": "d", "type": "temporal", "scale": {"type": "utc", "domain": [{"year":1999,"month":4,"date":1,"utc":true},{"year":2012,"month":12,"date":1,"utc":true}]}, "axis": {"offset": -88.33, "values": [{"year":1999,"month":4,"date":1,"utc":true},{"year":2002,"month":4,"date":1,"utc":true},{"year":2005,"month":4,"date":1,"utc":true},{"year":2008,"month":4,"date":1,"utc":true},{"year":2011,"month":4,"date":1,"utc":true}], "labelExpr": "utcFormat(datum.value, '%b-%y')", "title": null}}},
   "layer": [
    {"data": {"name": "er"}, "mark": {"type": "rule", "color": "#C0504D", "strokeWidth": 2.5}},
    {"data": {"name": "e"}, "mark": {"type": "line", "color": "#4A7EBB", "strokeWidth": 4}, "encoding": {"y": {"field": "v", "type": "quantitative", "scale": {"domain": [-20, 40], "nice": false, "zero": false}, "axis": {"values": [-20, 0, 20, 40], "labelExpr": "datum.value + '%'", "title": "Wage Inflation", "titleX": -65.5}}}}
   ]},
  {"width": 483, "height": 265,
   "title": {"text": "(f) Winnowing", "orient": "bottom", "anchor": "start", "frame": "group", "dx": 85, "offset": 5},
   "encoding": {"x": {"field": "d", "type": "temporal", "scale": {"type": "utc", "domain": [{"year":1999,"month":4,"date":1,"utc":true},{"year":2012,"month":12,"date":1,"utc":true}]}, "axis": {"offset": -88.33, "values": [{"year":1999,"month":4,"date":1,"utc":true},{"year":2002,"month":4,"date":1,"utc":true},{"year":2005,"month":4,"date":1,"utc":true},{"year":2008,"month":4,"date":1,"utc":true},{"year":2011,"month":4,"date":1,"utc":true}], "labelExpr": "utcFormat(datum.value, '%b-%y')", "title": null}}},
   "layer": [
    {"data": {"name": "fr"}, "mark": {"type": "rule", "color": "#C0504D", "strokeWidth": 2.5}},
    {"data": {"name": "f"}, "mark": {"type": "line", "color": "#4A7EBB", "strokeWidth": 4}, "encoding": {"y": {"field": "v", "type": "quantitative", "scale": {"domain": [-20, 40], "nice": false, "zero": false}, "axis": {"values": [-20, 0, 20, 40], "labelExpr": "datum.value + '%'", "title": "Wage Inflation", "titleX": -72}}}}
   ]}
  ], "spacing": 0},
 {"hconcat": [
  {"width": 488, "height": 257,
   "title": {"text": "(g) Threshing", "orient": "bottom", "anchor": "start", "frame": "group", "dx": 106, "offset": 5},
   "encoding": {"x": {"field": "d", "type": "temporal", "scale": {"type": "utc", "domain": [{"year":1999,"month":4,"date":1,"utc":true},{"year":2012,"month":12,"date":1,"utc":true}]}, "axis": {"offset": -85.67, "values": [{"year":1999,"month":4,"date":1,"utc":true},{"year":2002,"month":4,"date":1,"utc":true},{"year":2005,"month":4,"date":1,"utc":true},{"year":2008,"month":4,"date":1,"utc":true},{"year":2011,"month":4,"date":1,"utc":true}], "labelExpr": "utcFormat(datum.value, '%b-%y')", "title": null}}},
   "layer": [
    {"data": {"name": "gr"}, "mark": {"type": "rule", "color": "#C0504D", "strokeWidth": 2.5}},
    {"data": {"name": "g"}, "mark": {"type": "line", "color": "#4A7EBB", "strokeWidth": 4}, "encoding": {"y": {"field": "v", "type": "quantitative", "scale": {"domain": [-20, 40], "nice": false, "zero": false}, "axis": {"values": [-20, 0, 20, 40], "labelExpr": "datum.value + '%'", "title": "Wage Inflation", "titleX": -65.5}}}}
   ]},
  {"width": 483, "height": 257,
   "title": {"text": "(f) Picking", "orient": "bottom", "anchor": "start", "frame": "group", "dx": 85, "offset": 5},
   "encoding": {"x": {"field": "d", "type": "temporal", "scale": {"type": "utc", "domain": [{"year":1999,"month":4,"date":1,"utc":true},{"year":2012,"month":12,"date":1,"utc":true}]}, "axis": {"offset": -85.67, "values": [{"year":1999,"month":4,"date":1,"utc":true},{"year":2002,"month":4,"date":1,"utc":true},{"year":2005,"month":4,"date":1,"utc":true},{"year":2008,"month":4,"date":1,"utc":true},{"year":2011,"month":4,"date":1,"utc":true}], "labelExpr": "utcFormat(datum.value, '%b-%y')", "title": null}}},
   "layer": [
    {"data": {"name": "hr"}, "mark": {"type": "rule", "color": "#C0504D", "strokeWidth": 2.5}},
    {"data": {"name": "h"}, "mark": {"type": "line", "color": "#4A7EBB", "strokeWidth": 4}, "encoding": {"y": {"field": "v", "type": "quantitative", "scale": {"domain": [-20, 40], "nice": false, "zero": false}, "axis": {"values": [-20, 0, 20, 40], "labelExpr": "datum.value + '%'", "title": "Wage Inflation", "titleX": -72}}}}
   ]}
  ], "spacing": 0}
 ], "spacing": 30.2}
]
}
